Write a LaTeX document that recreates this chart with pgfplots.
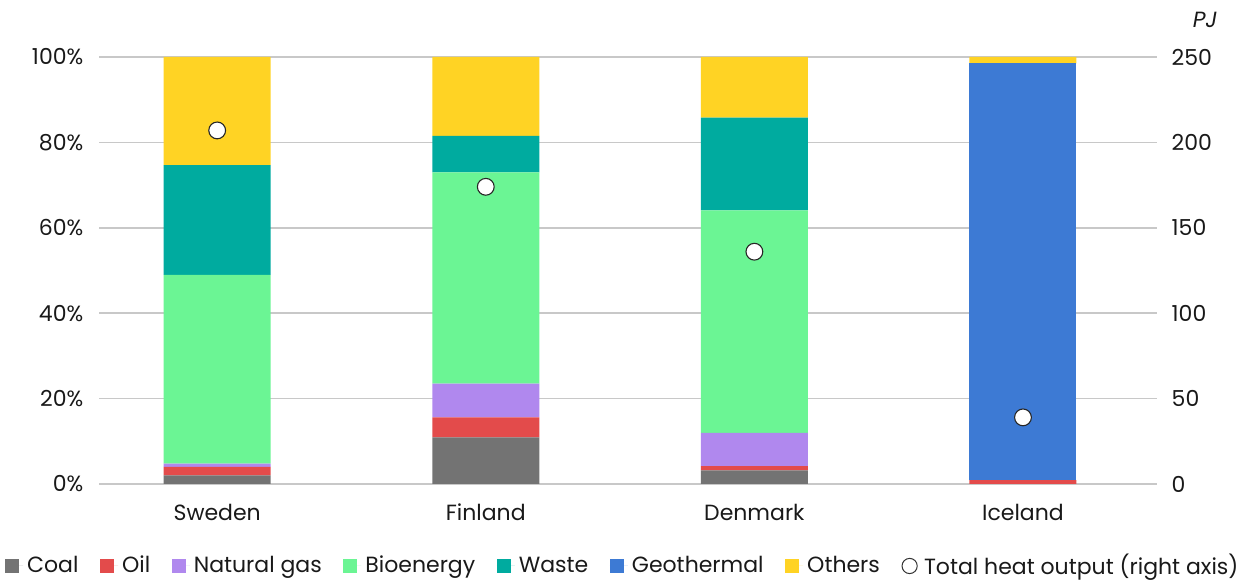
\documentclass[border=0pt]{standalone}
\usepackage{pgfplots}
\usepackage{pgfplotstable}
\pgfplotsset{compat=1.18}
\usepackage{fontspec}
\setmainfont{Poppins}

\definecolor{cCoal}{HTML}{737373}
\definecolor{cOil}{HTML}{E34B4B}
\definecolor{cGas}{HTML}{B088EE}
\definecolor{cBio}{HTML}{6BF594}
\definecolor{cWaste}{HTML}{00AB9F}
\definecolor{cGeo}{HTML}{3D7AD4}
\definecolor{cOther}{HTML}{FFD324}
\definecolor{cGrid}{HTML}{C8C8C8}

% Heat output shares (%) by source and total heat output (PJ)
\pgfplotstableread{
x coal oil gas bio waste geo others total
0 2.0  2.0 0.8 44.2 25.7 0    25.3 207
1 10.9 4.7 7.9 49.5 8.5  0    18.5 174
2 3.2  1.0 7.8 52.1 21.7 0    14.2 136
3 0    0.9 0   0    0    97.6 1.5  39
}\heatdata

\newcommand{\labfont}{\fontsize{11pt}{13pt}\selectfont}

\begin{document}
\begin{tikzpicture}
\begin{axis}[
  name=main,
  scale only axis, width=529pt, height=213.5pt,
  ybar stacked, bar width=53.5pt,
  xmin=-0.44, xmax=3.499, ymin=0, ymax=100,
  xtick={0,1,2,3}, xticklabels={Sweden,Finland,Denmark,Iceland},
  ytick={0,20,...,100},
  yticklabel={\pgfmathprintnumber{\tick}\%},
  /pgf/number format/assume math mode=true,
  ymajorgrids, grid style={draw=cGrid, line width=0.75pt},
  axis line style={draw=none}, major tick length=0pt,
  tick label style={font=\labfont, text=black!90},
  xticklabel style={yshift=-6.5pt},
  yticklabel style={xshift=-4.3pt},
  legend columns=8,
  legend style={draw=none, fill=none, font=\labfont, text=black!90,
    at={(0.496,-0.192)}, anchor=center,
    /tikz/every even column/.append style={column sep=8.8pt},
    inner sep=0pt},
  legend image code/.code={\fill[#1] (0pt,-3.5pt) rectangle (7pt,3.5pt);
    \path[draw=none] (0pt,0pt) -- (9pt,0pt);},
]
\addplot[fill=cCoal, draw=none] table[x=x, y=coal] {\heatdata};
\addlegendentry{Coal}
\addplot[fill=cOil, draw=none] table[x=x, y=oil] {\heatdata};
\addlegendentry{Oil}
\addplot[fill=cGas, draw=none] table[x=x, y=gas] {\heatdata};
\addlegendentry{Natural gas}
\addplot[fill=cBio, draw=none] table[x=x, y=bio] {\heatdata};
\addlegendentry{Bioenergy}
\addplot[fill=cWaste, draw=none] table[x=x, y=waste] {\heatdata};
\addlegendentry{Waste}
\addplot[fill=cGeo, draw=none] table[x=x, y=geo] {\heatdata};
\addlegendentry{Geothermal}
\addplot[fill=cOther, draw=none] table[x=x, y=others] {\heatdata};
\addlegendentry{Others}
\addlegendimage{draw=none, legend image code/.code={\draw[black!80, line width=0.5pt, fill=white] (3.8pt,0pt) circle (3.8pt);
    \path[draw=none] (0pt,0pt) -- (9pt,0pt);}}
\addlegendentry{Total heat output (right axis)}
\end{axis}

\begin{axis}[
  scale only axis, width=529pt, height=213.5pt,
  xmin=-0.44, xmax=3.499, ymin=0, ymax=250,
  axis x line=none,
  axis y line*=right, axis line style={draw=none},
  major tick length=0pt,
  ytick={0,50,...,250},
  /pgf/number format/assume math mode=true,
  yticklabel style={font=\labfont, text=black!90, xshift=3.8pt},
]
\addplot[only marks, mark=*, mark size=4.2pt,
  mark options={fill=white, draw=black!85, line width=0.55pt}]
  table[x=x, y=total] {\heatdata};
\end{axis}

\node[font=\labfont\itshape, text=black!90, anchor=base] at ([xshift=24pt, yshift=14.5pt]main.north east) {PJ};
\path[use as bounding box] (main.south west) ++(-49.5pt,-47pt) rectangle ++(626pt,289pt);
\end{tikzpicture}
\end{document}
